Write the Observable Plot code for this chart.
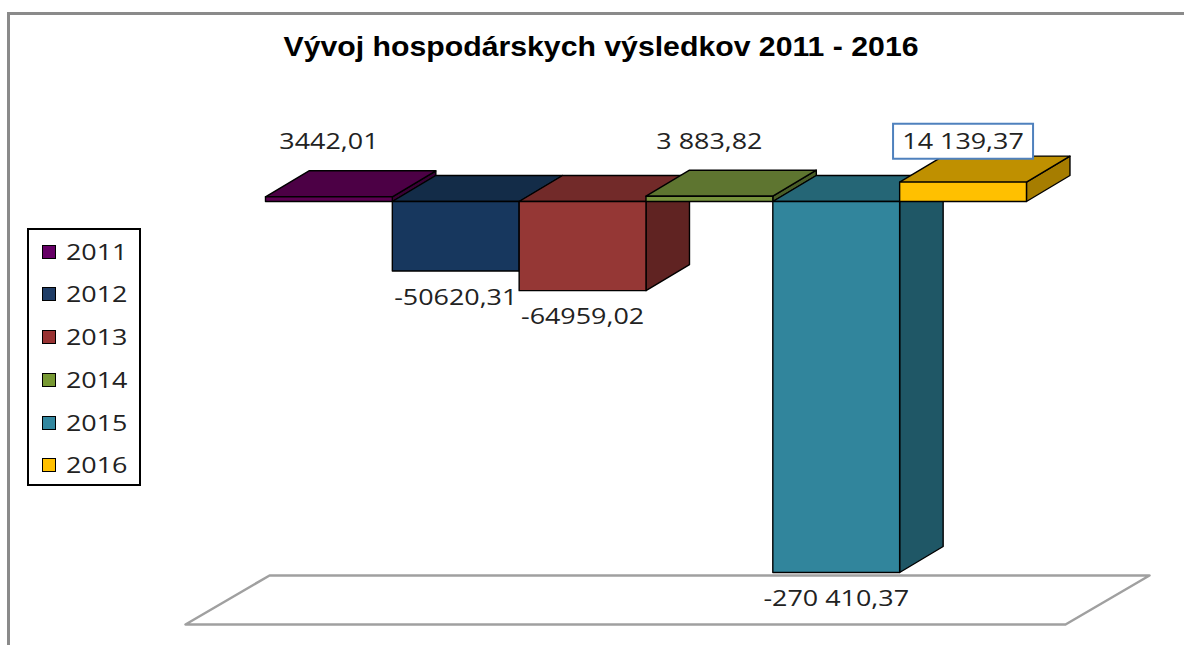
<!DOCTYPE html>
<html>
<head>
<meta charset="utf-8">
<script src="https://cdn.jsdelivr.net/npm/d3@7"></script>
<script src="https://cdn.jsdelivr.net/npm/@observablehq/plot@0.6"></script>
<style>
  html, body { margin: 0; padding: 0; background: #fff; overflow: hidden; }
  #wrap { position: relative; width: 1184px; height: 645px; overflow: hidden; }
  #frame { position: absolute; left: 7px; top: 12px; width: 1400px; height: 900px; border: 3px solid #8a8a8a; box-sizing: border-box; }
  #titlebar { position: relative; height: 80px; }
  #title { position: absolute; left: 600.5px; top: 32.5px; white-space: nowrap; font-family: "Liberation Sans", Arial, sans-serif; font-weight: bold; font-size: 28px; line-height: 28px; color: #000; transform-origin: 50% 50%; }
  #chart { position: relative; }
  #legend { position: absolute; left: 27px; top: 228px; width: 114px; height: 258px; border: 2px solid #000; box-sizing: border-box; background: #fff; font-family: "Open Sans", sans-serif; font-size: 21px; color: #222; }
  .item { position: absolute; left: 13px; height: 24px; display: flex; align-items: center; }
  .sw { width: 14px; height: 14px; border: 1.5px solid #000; box-sizing: border-box; margin-right: 10px; flex: none; }
  .lt { display: inline-block; transform-origin: 0 50%; transform: scaleX(1.28); line-height: 24px; }
</style>
</head>
<body>
<div id="wrap">
  <div id="frame"></div>
  <div id="titlebar"><span id="title"></span></div>
  <div id="chart"></div>
  <div id="legend"></div>
</div>
<script>
// ---- data ----
const titleText = "Vývoj hospodárskych výsledkov 2011 - 2016";
const years = ["2011", "2012", "2013", "2014", "2015", "2016"];
const values = [3442.01, -50620.31, -64959.02, 3883.82, -270410.37, 14139.37];
const valueLabels = ["3442,01", "-50620,31", "-64959,02", "3 883,82", "-270 410,37", "14 139,37"];
const frontColors = ["#5C0052", "#17375E", "#953735", "#77933C", "#31859C", "#FFC000"];
const topColors   = ["#4C0045", "#132C48", "#722A29", "#5E7530", "#256676", "#BF9000"];
const sideColors  = ["#3A0035", "#10253D", "#602322", "#4A5E27", "#1F5766", "#A67D00"];
const legendColors = ["#660066", "#1F3D66", "#993333", "#779933", "#3388A0", "#FFC000"];

// 3D depth (in data units) and layout constants
const DEPTH_X = 0.343;
const DEPTH_Y = 18950;
const LABEL_LEVEL = 43000;
const FLOOR = { front: -308300, back: -272600, x0: -0.631, x1: 6.308, bx0: 0.032, bx1: 6.97 };

// ---- title ----
const t = document.getElementById("title");
t.textContent = titleText;

// ---- build faces ----
const faces = [];
values.forEach((v, i) => {
  const x0 = i, x1 = i + 1;
  const top = Math.max(v, 0), bot = Math.min(v, 0);
  const push = (id, fill, pts) => pts.forEach(([x, y]) => faces.push({ id, fill, x, y }));
  push(`side${i}`, sideColors[i], [[x1, bot], [x1, top], [x1 + DEPTH_X, top + DEPTH_Y], [x1 + DEPTH_X, bot + DEPTH_Y]]);
  push(`top${i}`, topColors[i], [[x0, top], [x1, top], [x1 + DEPTH_X, top + DEPTH_Y], [x0 + DEPTH_X, top + DEPTH_Y]]);
  push(`front${i}`, frontColors[i], [[x0, bot], [x1, bot], [x1, top], [x0, top]]);
});
const floorPts = [
  { x: FLOOR.x0, y: FLOOR.front }, { x: FLOOR.x1, y: FLOOR.front },
  { x: FLOOR.bx1, y: FLOOR.back }, { x: FLOOR.bx0, y: FLOOR.back }
];
const labels = values.map((v, i) => ({ i, v, label: valueLabels[i], year: years[i] }));

const svg = Plot.plot({
  width: 1184,
  height: 565,
  style: { background: "transparent", overflow: "visible" },
  x: { domain: [-1, 7], range: [138.17, 1152.8], axis: null },
  y: { domain: [-310000, 60000], range: [546.3, 38.7], axis: null },
  color: { type: "identity" },
  marks: [
    Plot.line(floorPts, { x: "x", y: "y", fill: "#fff", stroke: "#a0a0a0", strokeWidth: 2.5, curve: "linear-closed" }),
    Plot.line(faces, { x: "x", y: "y", z: "id", fill: "fill", stroke: "#000", strokeWidth: 1.4, strokeLinejoin: "round", curve: "linear-closed" }),
    Plot.text(labels.filter(d => d.v > 0), { x: d => d.i + 0.5, y: () => LABEL_LEVEL, text: "label", lineAnchor: "middle", fontSize: 21, fontFamily: "Open Sans", fill: "#222" }),
    Plot.text(labels.filter(d => d.v < 0), { x: d => d.i + 0.5, y: "v", text: "label", dy: 27, lineAnchor: "middle", fontSize: 21, fontFamily: "Open Sans", fill: "#222" })
  ]
});
document.getElementById("chart").appendChild(svg);

// stretch labels like the reference (wide rendering)
const STRETCH = 1.28;
svg.querySelectorAll('g[aria-label="text"] text').forEach(el => {
  const len = el.getComputedTextLength();
  el.setAttribute("textLength", len * STRETCH);
  el.setAttribute("lengthAdjust", "spacingAndGlyphs");
  if (el.textContent === valueLabels[5]) {
    const bb = el.getBBox();
    const cx = bb.x + bb.width / 2, cy = bb.y + bb.height / 2;
    const r = document.createElementNS("http://www.w3.org/2000/svg", "rect");
    r.setAttribute("x", cx - 70); r.setAttribute("y", cy - 17.5);
    r.setAttribute("width", 140); r.setAttribute("height", 35);
    r.setAttribute("fill", "#fff"); r.setAttribute("stroke", "#4F81BD"); r.setAttribute("stroke-width", 2);
    const tr = el.getAttribute("transform");
    if (tr) r.setAttribute("transform", tr);
    el.parentNode.insertBefore(r, el);
  }
});

// title width
const tw = t.getBoundingClientRect().width;
t.style.transform = `translateX(-50%) scaleX(${635 / tw})`;

// legend
const leg = document.getElementById("legend");
years.forEach((y, i) => {
  const it = document.createElement("div");
  it.className = "item";
  it.style.top = (23.7 - 12 - 2 + i * 42.7) + "px";
  const sw = document.createElement("div");
  sw.className = "sw";
  sw.style.background = legendColors[i];
  const lt = document.createElement("span");
  lt.className = "lt";
  lt.textContent = y;
  it.appendChild(sw); it.appendChild(lt);
  leg.appendChild(it);
});
</script>
</body>
</html>
